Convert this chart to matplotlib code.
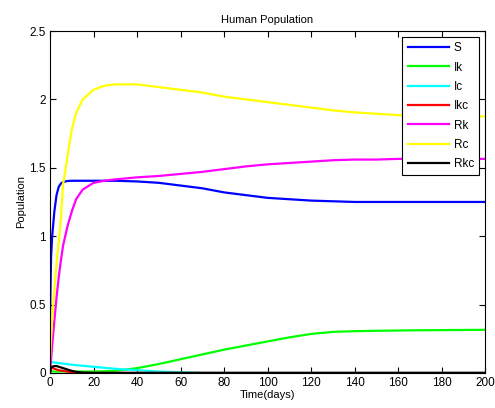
import numpy as np
import matplotlib.pyplot as plt

t = [0, 0.5, 1, 2, 3, 4, 5, 6, 7, 8, 10, 12, 15, 20, 25, 30, 40, 50, 60, 70,
     80, 90, 100, 110, 120, 130, 140, 150, 160, 170, 180, 190, 200]

S = [0.40, 0.85, 1.00, 1.18, 1.30, 1.36, 1.385, 1.395, 1.40, 1.403, 1.405, 1.405, 1.405, 1.405, 1.405, 1.405,
     1.40, 1.39, 1.37, 1.35, 1.32, 1.30, 1.28, 1.27, 1.26, 1.255, 1.25, 1.25, 1.25, 1.25, 1.25, 1.25, 1.25]
Ik = [0.02, 0.015, 0.012, 0.01, 0.01, 0.01, 0.01, 0.01, 0.01, 0.01, 0.01, 0.01, 0.01, 0.01, 0.012, 0.015,
      0.035, 0.065, 0.10, 0.135, 0.17, 0.20, 0.23, 0.26, 0.285, 0.30, 0.305, 0.308, 0.31, 0.312, 0.313, 0.314, 0.315]
Ic = [0.08, 0.08, 0.078, 0.076, 0.074, 0.072, 0.07, 0.068, 0.066, 0.064, 0.06, 0.057, 0.052, 0.045, 0.037, 0.03,
      0.02, 0.01, 0.005, 0.001, 0, 0, 0, 0, 0, 0, 0, 0, 0, 0, 0, 0, 0]
Ikc = [0.0, 0.03, 0.04, 0.03, 0.025, 0.02, 0.017, 0.015, 0.012, 0.01, 0.005, 0.0, 0, 0, 0, 0,
       0, 0, 0, 0, 0, 0, 0, 0, 0, 0, 0, 0, 0, 0, 0, 0, 0]
Rk = [0.0, 0.1, 0.2, 0.38, 0.55, 0.70, 0.82, 0.93, 1.00, 1.07, 1.18, 1.27, 1.34, 1.39, 1.405, 1.415,
      1.43, 1.44, 1.455, 1.47, 1.49, 1.51, 1.525, 1.535, 1.545, 1.555, 1.56, 1.56, 1.565, 1.565, 1.565, 1.565, 1.565]
Rc = [0.10, 0.25, 0.40, 0.60, 0.80, 0.95, 1.12, 1.38, 1.47, 1.58, 1.78, 1.90, 2.00, 2.07, 2.10, 2.11,
      2.11, 2.09, 2.07, 2.05, 2.02, 2.00, 1.98, 1.96, 1.94, 1.92, 1.905, 1.895, 1.885, 1.88, 1.88, 1.875, 1.875]
Rkc = [0.0, 0.04, 0.045, 0.05, 0.05, 0.045, 0.04, 0.035, 0.03, 0.025, 0.015, 0.008, 0.002, 0, 0, 0,
       0, 0, 0, 0, 0, 0, 0, 0, 0, 0, 0, 0, 0, 0, 0, 0, 0]

names = ['S', 'Ik', 'Ic', 'Ikc', 'Rk', 'Rc', 'Rkc']
series = [S, Ik, Ic, Ikc, Rk, Rc, Rkc]
colors = ['#0000ff', '#00ff00', '#00ffff', '#ff0000', '#ff00ff', '#ffff00', '#000000']

plt.rcParams['font.family'] = ['Liberation Sans', 'DejaVu Sans']
fig = plt.figure(figsize=(4.95, 4.08), dpi=100)
ax = fig.add_axes([0.101, 0.086, 0.879, 0.838])

for name, y, c in zip(names, series, colors):
    ax.plot(t, y, color=c, linewidth=1.6, label=name)

ax.set_xlim(0, 200)
ax.set_ylim(0, 2.5)
ax.set_xticks(np.arange(0, 201, 20))
ax.set_yticks([0, 0.5, 1, 1.5, 2, 2.5])
ax.set_yticklabels(['0', '0.5', '1', '1.5', '2', '2.5'])
ax.tick_params(direction='in', top=True, right=True, labelsize=8.5, length=4, width=0.8, pad=3)
for sp in ax.spines.values():
    sp.set_linewidth(0.8)

ax.set_title('Human Population', fontsize=8, pad=6)
ax.set_xlabel('Time(days)', fontsize=8, labelpad=1)
ax.set_ylabel('Population', fontsize=8, labelpad=2)

leg = ax.legend(loc='upper right', fontsize=8.5, fancybox=False, framealpha=1,
                edgecolor='black', handlelength=3.5, borderaxespad=0.5,
                labelspacing=0.62, handletextpad=0.4, borderpad=0.45)
leg.get_frame().set_linewidth(0.8)

fig.savefig('out.png', dpi=100)
